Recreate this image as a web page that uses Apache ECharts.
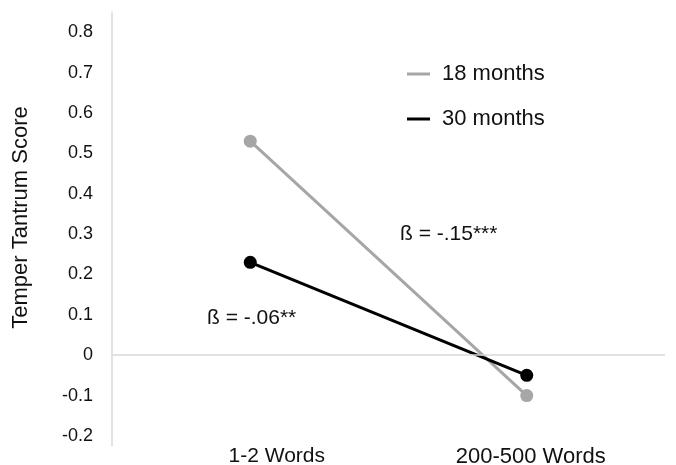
<!DOCTYPE html>
<html><head><meta charset="utf-8">
<script src="https://cdn.jsdelivr.net/npm/echarts@6/dist/echarts.min.js"></script>
<style>html,body{margin:0;padding:0;background:#fff}#c{width:676px;height:465px}</style>
</head><body><div id="c"></div>
<script>
const categories = ['1-2 Words', '200-500 Words'];
const months18 = [0.53, -0.10];
const months30 = [0.23, -0.05];
const yTicks = [-0.2, -0.1, 0, 0.1, 0.2, 0.3, 0.4, 0.5, 0.6, 0.7, 0.8];
const seriesNames = ['18 months', '30 months'];

const chart = echarts.init(document.getElementById('c'), null, {renderer: 'canvas'});
const font = 'Liberation Sans, Arial, sans-serif';
chart.setOption({
  animation: false,
  grid: {left: 112, right: 11, top: 12, bottom: 19, containLabel: false, outerBoundsMode: 'none'},
  legend: {
    orient: 'vertical', left: 402, top: 58, icon: 'rect', itemWidth: 23, itemHeight: 3,
    itemGap: 23,
    textStyle: {fontFamily: font, fontSize: 22, color: '#111', padding: [0, 0, 0, 7]},
    data: seriesNames
  },
  xAxis: {
    type: 'category', data: categories, boundaryGap: true,
    axisLine: {show: false}, axisTick: {show: false},
    axisLabel: {fontFamily: font, fontSize: 21, color: '#111', margin: 0,
      formatter: function (v, i) { return i === 0 ? '{a|' + v + '}' : '{b|' + v + '}'; },
      rich: {
        a: {fontFamily: font, fontSize: 21, color: '#111', padding: [0, 0, 0, 53]},
        b: {fontFamily: font, fontSize: 22, color: '#111', padding: [0, 0, 0, 8]}
      }
    }
  },
  yAxis: {
    type: 'value', min: -0.225, max: 0.85,
    name: 'Temper Tantrum Score', nameLocation: 'middle', nameGap: 80,
    nameTextStyle: {fontFamily: font, fontSize: 22, color: '#111', padding: [0, 0, 0, 23]},
    axisLine: {show: true, lineStyle: {color: '#d9d9d9', width: 1.5}},
    axisTick: {show: false},
    splitLine: {show: false},
    axisLabel: {
      customValues: yTicks, fontFamily: font, fontSize: 18, color: '#111', margin: 19,
      formatter: function (v) { return Math.abs(v) < 1e-9 ? '0' : v.toFixed(1); }
    }
  },
  series: [
    {
      name: seriesNames[0], type: 'line', data: months18,
      symbol: 'circle', symbolSize: 13,
      lineStyle: {color: '#a6a6a6', width: 3}, itemStyle: {color: '#a6a6a6'},
      markLine: {silent: true, symbol: 'none', label: {show: false},
        lineStyle: {color: '#d9d9d9', width: 1.5, type: 'solid'}, data: [{yAxis: 0}]},
      z: 2
    },
    {
      name: seriesNames[1], type: 'line', data: months30,
      symbol: 'circle', symbolSize: 13,
      lineStyle: {color: '#000', width: 3}, itemStyle: {color: '#000'},
      z: 3
    }
  ],
  graphic: [
    {type: 'text', left: 207, top: 308, style: {text: 'ß = -.06**', fontFamily: font, fontSize: 21, fill: '#111'}},
    {type: 'text', left: 400, top: 224, style: {text: 'ß = -.15***', fontFamily: font, fontSize: 21, fill: '#111'}}
  ]
});
</script>
</body></html>
